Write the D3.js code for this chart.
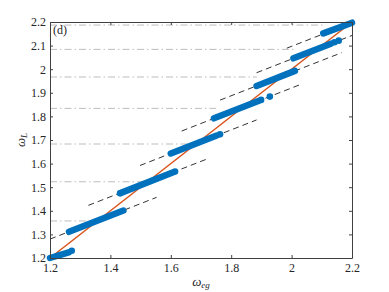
<!DOCTYPE html>
<html>
<head>
<meta charset="utf-8">
<script src="https://cdn.jsdelivr.net/npm/d3@7"></script>
<style>
    body { margin: 0; background: #fff; }
    svg text { font-family: "Liberation Serif", "DejaVu Serif", serif; fill: #262626; }
</style>
</head>
<body>
<div id="chart"></div>
<script>
// ticks
var xTicks = [1.2, 1.4, 1.6, 1.8, 2.0, 2.2];
var xTickLabels = ["1.2", "1.4", "1.6", "1.8", "2", "2.2"];
var yTicks = [1.2, 1.3, 1.4, 1.5, 1.6, 1.7, 1.8, 1.9, 2.0, 2.1, 2.2];
var yTickLabels = ["1.2", "1.3", "1.4", "1.5", "1.6", "1.7", "1.8", "1.9", "2", "2.1", "2.2"];

// plateau levels (grey dash-dot) and where they stop along omega_eg
var levelY = [1.357, 1.523, 1.683, 1.834, 1.967, 2.084, 2.187];
var levelEndX = [1.355, 1.528, 1.68, 1.75, 1.885, 2.01, 2.105];

// dashed guide lines, start and end points
var guideStart = [[1.200, 1.280], [1.327, 1.423], [1.498, 1.592], [1.636, 1.738], [1.763, 1.869], [1.884, 1.985], [1.984, 2.089]];
var guideEnd = [[1.553, 1.457], [1.723, 1.621], [1.884, 1.785], [2.033, 1.937], [2.166, 2.070], [2.200, 2.143], [2.200, 2.197]];

// locked bands of blue samples, start and end points
var bandStart = [[1.200, 1.200], [1.263, 1.311], [1.435, 1.476], [1.600, 1.643], [1.743, 1.792], [1.884, 1.929], [2.006, 2.046], [2.105, 2.152]];
var bandEnd = [[1.262, 1.224], [1.443, 1.401], [1.606, 1.562], [1.752, 1.719], [1.890, 1.865], [2.011, 1.993], [2.130, 2.108], [2.200, 2.197]];

// loose samples at the band ends
var looseDots = [[1.272, 1.231], [1.432, 1.474], [1.614, 1.566], [1.763, 1.724], [1.899, 1.870], [1.928, 1.884], [2.142, 2.114], [2.156, 2.121]];

// the omega_L = omega_eg line
var diagonal = [[1.2, 1.2], [2.2, 2.2]];

var margin = { top: 22, right: 37, bottom: 34, left: 50 },
    width = 389 - margin.left - margin.right,
    height = 292 - margin.top - margin.bottom;

var svg = d3.select("#chart")
    .append("svg")
    .attr("width", 389)
    .attr("height", 292)
    .append("g")
    .attr("transform", "translate(" + margin.left + "," + margin.top + ")");

var x = d3.scaleLinear().domain([1.2, 2.2]).range([0, width]);
var y = d3.scaleLinear().domain([1.2, 2.2]).range([height, 0]);

var line = d3.line()
    .x(function (d) { return x(d[0]); })
    .y(function (d) { return y(d[1]); });

// grey dash-dot levels
svg.selectAll(".level")
    .data(levelY)
    .enter()
    .append("line")
    .attr("x1", x(1.2))
    .attr("x2", function (d, i) { return x(levelEndX[i]); })
    .attr("y1", function (d) { return y(d); })
    .attr("y2", function (d) { return y(d); })
    .attr("stroke", "#bdbdbd")
    .attr("stroke-width", 1)
    .attr("stroke-dasharray", "7,3,1.5,3");

// dashed guides
svg.selectAll(".guide")
    .data(guideStart)
    .enter()
    .append("path")
    .attr("d", function (d, i) { return line([d, guideEnd[i]]); })
    .attr("fill", "none")
    .attr("stroke", "#333")
    .attr("stroke-width", 1)
    .attr("stroke-dasharray", "6,4");

// diagonal
svg.append("path")
    .attr("d", line(diagonal))
    .attr("fill", "none")
    .attr("stroke", "#D95319")
    .attr("stroke-width", 1.5);

// blue bands
svg.selectAll(".band")
    .data(bandStart)
    .enter()
    .append("path")
    .attr("d", function (d, i) { return line([d, bandEnd[i]]); })
    .attr("fill", "none")
    .attr("stroke", "#0072BD")
    .attr("stroke-width", 6.5)
    .attr("stroke-linecap", "round");

svg.selectAll(".dot")
    .data(looseDots)
    .enter()
    .append("circle")
    .attr("cx", function (d) { return x(d[0]); })
    .attr("cy", function (d) { return y(d[1]); })
    .attr("r", 3.3)
    .attr("fill", "#0072BD");

// axes, ticks pointing inwards, box all round
function styleAxis(g) {
    g.selectAll("path").attr("stroke", "#404040");
    g.selectAll("line").attr("stroke", "#404040");
    g.selectAll("text").style("font-size", "12px").attr("fill", "#262626");
}

svg.append("g")
    .attr("transform", "translate(0," + height + ")")
    .call(d3.axisBottom(x).tickValues(xTicks).tickSize(-3).tickSizeOuter(0).tickPadding(5.5)
        .tickFormat(function (d, i) { return xTickLabels[i]; }))
    .call(styleAxis);

svg.append("g")
    .call(d3.axisTop(x).tickValues(xTicks).tickSize(-3).tickSizeOuter(0).tickFormat(""))
    .call(styleAxis);

svg.append("g")
    .call(d3.axisLeft(y).tickValues(yTicks).tickSize(-3).tickSizeOuter(0).tickPadding(4)
        .tickFormat(function (d, i) { return yTickLabels[i]; }))
    .call(styleAxis);

svg.append("g")
    .attr("transform", "translate(" + width + ",0)")
    .call(d3.axisRight(y).tickValues(yTicks).tickSize(-3).tickSizeOuter(0).tickFormat(""))
    .call(styleAxis);

// panel tag
svg.append("text")
    .attr("x", 3)
    .attr("y", 12)
    .style("font-size", "12px")
    .text("(d)");

// axis labels
var xl = svg.append("text")
    .attr("x", width / 2)
    .attr("y", height + 28)
    .style("text-anchor", "middle")
    .style("font-size", "13px")
    .style("font-style", "italic");
xl.append("tspan").text("ω");
xl.append("tspan").attr("dy", 2).style("font-size", "9px").text("eg");

var yl = svg.append("text")
    .attr("transform", "translate(-25," + (height / 2) + ") rotate(-90)")
    .style("text-anchor", "middle")
    .style("font-size", "13px")
    .style("font-style", "italic");
yl.append("tspan").text("ω");
yl.append("tspan").attr("dy", 2).style("font-size", "9px").text("L");
</script>
</body>
</html>
